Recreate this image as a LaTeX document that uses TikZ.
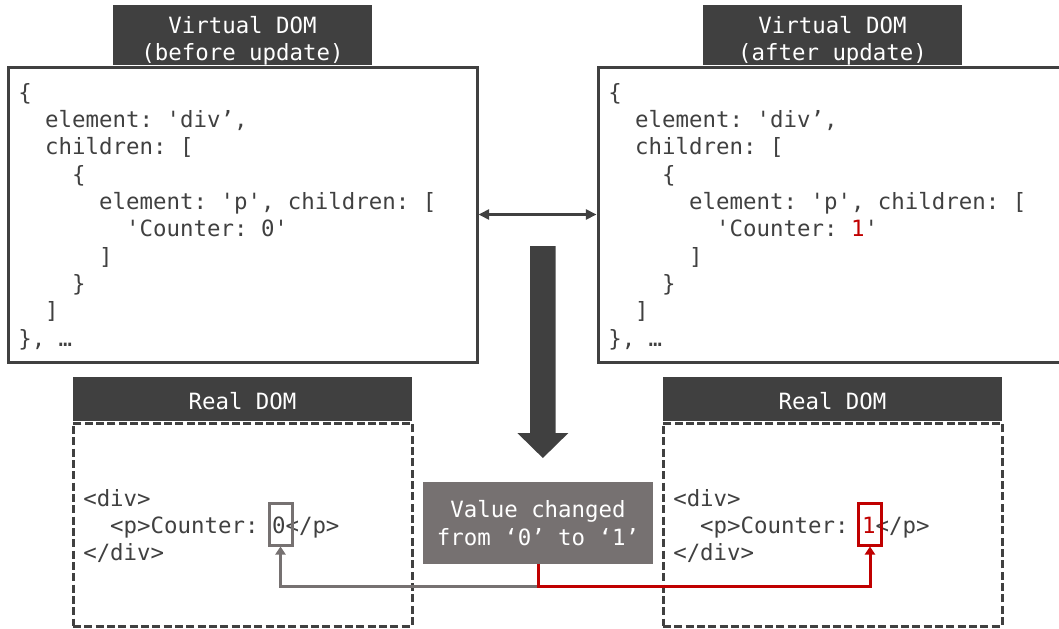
\documentclass[tikz,border=0pt]{standalone}
\usepackage{fontspec}
\setmonofont{DejaVu Sans Mono}
\usepackage{xcolor}
\usetikzlibrary{arrows.meta, positioning}

\definecolor{tabgray}{HTML}{404040}
\definecolor{valgray}{HTML}{767171}
\definecolor{chgred}{HTML}{C00000}
\newcommand{\codefont}{\ttfamily\fontsize{16.8}{20.5}\selectfont}
\newcommand{\codeind}[1]{\hspace*{#1\fontcharwd\font`0}}
\newcommand{\tabstrut}{\rule{0pt}{21pt}}

\begin{document}
\begin{tikzpicture}[
    x=0.75pt, y=-0.75pt,
    vframe/.style={rectangle, draw=tabgray, line width=2.25pt, minimum width=351.75pt, minimum height=221.25pt},
    rframe/.style={rectangle, draw=tabgray, line width=2.25pt, dash pattern=on 6pt off 2.5pt, minimum width=254.25pt, minimum height=152.25pt},
    tab/.style={rectangle, fill=tabgray, text=white, font=\codefont, align=center, inner sep=0pt},
    code/.style={font=\codefont, text=tabgray, align=left, inner sep=0pt, anchor=north west},
    changebox/.style={rectangle, fill=valgray, text=white, font=\codefont, align=center, minimum width=172.5pt, minimum height=61.5pt},
    hlbox/.style={rectangle, line width=2.25pt, minimum width=17.25pt, minimum height=31.5pt, inner sep=0pt},
    conn/.style={line width=2.25pt, -{Triangle[length=6pt,width=7.5pt]}},
    dblarr/.style={line width=2.25pt, draw=tabgray, {Triangle[length=8pt,width=7.5pt]}-{Triangle[length=8pt,width=7.5pt]}}
]
\useasboundingbox (0,0) rectangle (1059,628);

% Virtual DOM boxes
\node[vframe] (vframeL) at (242.5,214.5) {};
\node[vframe] (vframeR) at (832.5,214.5) {};
\node[tab, minimum width=194.25pt, minimum height=45pt, above=0pt of vframeL] (titleL) {\tabstrut Virtual DOM\\(before update)};
\node[tab, minimum width=194.25pt, minimum height=45pt, above=0pt of vframeR] (titleR) {\tabstrut Virtual DOM\\(after update)};

\node[code] (codeVL) at (18,83) {\{\\
\codeind{2}element: 'div’,\\
\codeind{2}children: [\\
\codeind{4}\{\\
\codeind{6}element: 'p', children: [\\
\codeind{8}'Counter: 0'\\
\codeind{6}]\\
\codeind{4}\}\\
\codeind{2}]\\
\}, …};
\node[code] (codeVR) at (608,83) {\{\\
\codeind{2}element: 'div’,\\
\codeind{2}children: [\\
\codeind{4}\{\\
\codeind{6}element: 'p', children: [\\
\codeind{8}'Counter: \textcolor{chgred}{1}'\\
\codeind{6}]\\
\codeind{4}\}\\
\codeind{2}]\\
\}, …};

\draw[dblarr] (vframeL.east) -- (vframeR.west);

% diff arrow
\fill[tabgray] (530,246) -- (555.7,246) -- (555.7,433) -- (568.35,433) -- (542.85,458)
  -- (517.35,433) -- (530,433) -- cycle;

% Real DOM boxes
\node[rframe] (rframeL) at (242.5,524.5) {};
\node[rframe] (rframeR) at (832.5,524.5) {};
\node[tab, minimum width=254.25pt, minimum height=33pt, text height=16.5pt, text depth=1.5pt, above=0pt of rframeL] (realL) {Real DOM};
\node[tab, minimum width=254.25pt, minimum height=33pt, text height=16.5pt, text depth=1.5pt, above=0pt of rframeR] (realR) {Real DOM};

\node[code] (codeRL) at (83,489) {<div>\\
\codeind{2}<p>Counter: 0</p>\\
</div>};
\node[code] (codeRR) at (673,489) {<div>\\
\codeind{2}<p>Counter: \textcolor{chgred}{1}</p>\\
</div>};

\node[hlbox, draw=valgray] (hlL) at (280.5,524) {};
\node[hlbox, draw=chgred]  (hlR) at (870,524) {};

\node[changebox] (change) at (538,523) {Value changed\\from ‘0’ to ‘1’};
\coordinate[below=16.5pt of change.south] (fork);

% connectors
\draw[conn, valgray] (change.south) -- (fork) -| (hlL.south);
\draw[conn, chgred]  (change.south) -- (fork) -| (hlR.south);
\end{tikzpicture}
\end{document}
